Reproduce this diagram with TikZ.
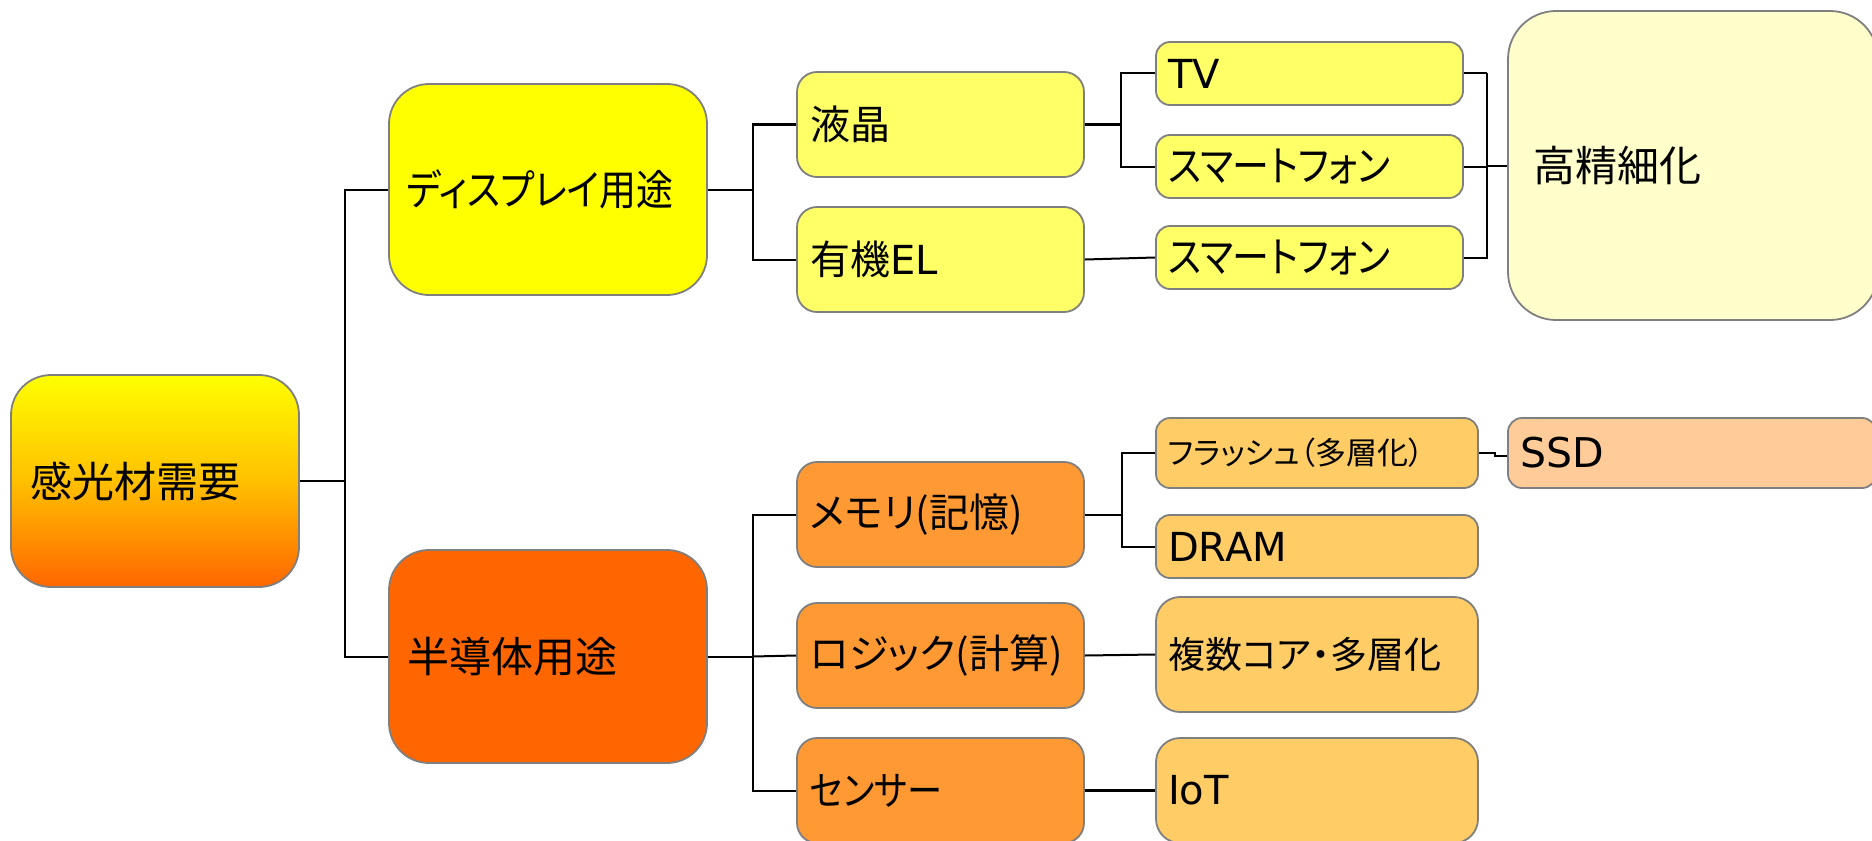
\documentclass[tikz,border=0pt]{standalone}
\usepackage{fontspec}
\setmainfont{Noto Sans CJK JP}[RawFeature=+palt]
\newfontfamily\jpcond{Noto Sans CJK JP}[RawFeature=+palt,FakeStretch=0.88]
\newfontfamily\lat{DejaVu Sans}
\definecolor{cY}{HTML}{FFFF00}
\definecolor{cO}{HTML}{FF6600}
\definecolor{cLY}{HTML}{FFFF66}
\definecolor{cPY}{HTML}{FFFFCC}
\definecolor{cMO}{HTML}{FF9933}
\definecolor{cLO}{HTML}{FFCC66}
\definecolor{cSSD}{HTML}{FFCC99}
\definecolor{cGrad}{HTML}{FFC000}
\definecolor{cBorder}{HTML}{7F7F7F}
\newcommand\mybox[8]{%
  \pgfmathsetmacro\bw{(#4-#2)*0.5}%
  \pgfmathsetmacro\bh{(#5-#3)*0.5}%
  \pgfmathsetmacro\tw{\bw-2*#7}%
  \node[#6, inner xsep=#7pt, minimum width=\bw pt, minimum height=\bh pt,
        text width=\tw pt, align=left] (#1) at ({(#2+#4)/2},{(#3+#5)/2}) {#8};}
\begin{document}
\begin{tikzpicture}[x=0.5pt,y=-0.5pt,
  box/.style={draw=cBorder, line width=0.9pt, inner ysep=0pt, font=\fontsize{20pt}{24pt}\selectfont},
  rootbox/.style={box, rounded corners=20pt, top color=cY, bottom color=cO, middle color=cGrad, font=\fontsize{21pt}{25pt}\selectfont},
  bigbox/.style={box, rounded corners=20pt},
  hugebox/.style={box, rounded corners=24pt, font=\fontsize{21pt}{25pt}\selectfont},
  midbox/.style={box, rounded corners=10pt},
  smallbox/.style={box, rounded corners=7pt},
  tallbox/.style={box, rounded corners=12pt},
  condfont/.style={font=\fontsize{21pt}{25pt}\jpcond},
  conn/.style={draw=black, line width=1pt}
]
\useasboundingbox (0,0) rectangle (1872,840);
\clip (0,0) rectangle (1872,840);

\mybox{root}{11}{375}{299}{587}{rootbox}{9.5}{感光材需要}
\mybox{disp}{389}{84}{707}{295}{bigbox,fill=cY,condfont}{9}{ディスプレイ用途}
\mybox{semi}{389}{550}{707}{763}{bigbox,fill=cO,font=\fontsize{21pt}{25pt}\selectfont}{9}{半導体用途}
\mybox{ekisho}{797}{72}{1084}{177}{midbox,fill=cLY}{6.5}{液晶}
\mybox{yuki}{797}{207}{1084}{312}{midbox,fill=cLY}{6.5}{有機{\lat EL}}
\mybox{tv}{1156}{42}{1463}{105}{smallbox,fill=cLY}{6}{{\lat TV}}
\mybox{sp1}{1156}{135}{1463}{198}{smallbox,fill=cLY,condfont}{6}{スマートフォン}
\mybox{sp2}{1156}{226}{1463}{289}{smallbox,fill=cLY,condfont}{6}{スマートフォン}
\mybox{kos}{1508}{11}{1878}{320}{hugebox,fill=cPY}{12.5}{高精細化}
\mybox{memory}{797}{462}{1084}{567}{midbox,fill=cMO}{6.5}{メモリ(記憶)}
\mybox{logic}{797}{603}{1084}{708}{midbox,fill=cMO}{6.5}{ロジック(計算)}
\mybox{sensor}{797}{738}{1084}{843}{midbox,fill=cMO,font=\fontsize{20pt}{24pt}\jpcond}{6.5}{センサー}
\mybox{flash}{1156}{418}{1478}{488}{smallbox,fill=cLO,font=\fontsize{15.5pt}{18pt}\selectfont}{6}{フラッシュ（多層化）}
\mybox{dram}{1156}{515}{1478}{578}{smallbox,fill=cLO}{6}{{\lat DRAM}}
\mybox{multi}{1156}{597}{1478}{712}{tallbox,fill=cLO,font=\fontsize{18.5pt}{22pt}\selectfont}{6}{複数コア・多層化}
\mybox{iot}{1156}{738}{1478}{843}{tallbox,fill=cLO}{6}{{\lat IoT}}
\mybox{ssd}{1508}{418}{1876}{488}{smallbox,fill=cSSD,font=\fontsize{20.5pt}{25pt}\selectfont}{6}{{\lat SSD}}

% connectors
\draw[conn] (root.east) -- ++(45,0) coordinate (t1);
\draw[conn] (disp.west) -| (t1) |- (semi.west);

\draw[conn] (disp.east) -- ++(45,0) coordinate (t2);
\draw[conn] (ekisho.west) -| (t2) |- (yuki.west);

\draw[conn] (ekisho.east) -- ++(36,0) coordinate (t3);
\draw[conn] (tv.west) -| (t3) |- (sp1.west);

\draw[conn] (yuki.east) -- (sp2.west);

\draw[conn] (tv.east) -- ++(23,0) coordinate (t4);
\draw[conn] (t4) -- (t4 |- sp2.east) -- (sp2.east);
\draw[conn] (sp1.east) -- (sp1.east -| t4);
\draw[conn] (kos.west -| t4) -- (kos.west);

\draw[conn] (semi.east) -- ++(45,0) coordinate (t5);
\draw[conn] (memory.west) -| (t5) |- (sensor.west);
\draw[conn] (t5) -- (logic.west);

\draw[conn] (memory.east) -- ++(37,0) coordinate (t6);
\draw[conn] (flash.west) -| (t6) |- (dram.west);

\draw[conn] (logic.east) -- (multi.west);
\draw[conn, line width=1.5pt] (sensor.east) -- (iot.west);

\draw[conn] (flash.east) -- ++(16,0) coordinate (t7) -- ++(0,3) coordinate (t8) -- (t8 -| ssd.west);
\end{tikzpicture}
\end{document}
